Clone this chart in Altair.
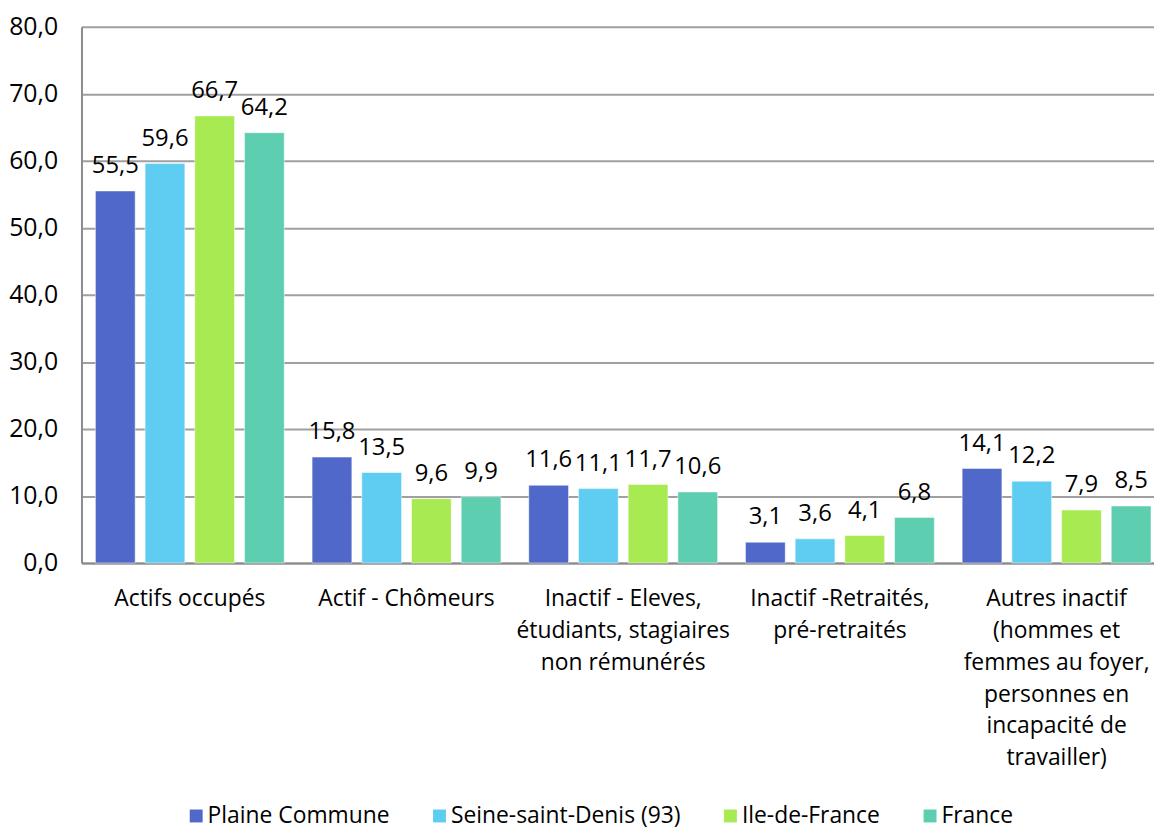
import altair as alt
import pandas as pd

categories = [
    "Actifs occupés",
    "Actif - Chômeurs",
    "Inactif - Eleves,|étudiants, stagiaires|non rémunérés",
    "Inactif -Retraités,|pré-retraités",
    "Autres inactif|(hommes et|femmes au foyer,|personnes en|incapacité de|travailler)",
]
series = ["Plaine Commune", "Seine-saint-Denis (93)", "Ile-de-France", "France"]
plaine_commune = [55.5, 15.8, 11.6, 3.1, 14.1]
seine_saint_denis = [59.6, 13.5, 11.1, 3.6, 12.2]
ile_de_france = [66.7, 9.6, 11.7, 4.1, 7.9]
france = [64.2, 9.9, 10.6, 6.8, 8.5]
colors = ["#4F68C9", "#5FCCF2", "#A8EA52", "#5ECEB1"]
y_ticks = [0, 10, 20, 30, 40, 50, 60, 70, 80]

rows = []
for s, vals in zip(series, [plaine_commune, seine_saint_denis, ile_de_france, france]):
    for c, v in zip(categories, vals):
        rows.append({"cat": c, "serie": s, "val": v, "lab": f"{v:.1f}".replace(".", ",")})
df = pd.DataFrame(rows)

FONT = "Open Sans"

base = alt.Chart(df).encode(
    x=alt.X("cat:N", sort=categories, title=None,
            scale=alt.Scale(paddingInner=0, paddingOuter=0),
            axis=alt.Axis(labelExpr="split(datum.label, '|')", labelAngle=0,
                          labelFontSize=23, labelFont=FONT, labelColor="#000000",
                          labelPadding=25, labelLineHeight=32, ticks=False, grid=False,
                          labelLimit=400,
                          domainColor="#8C8C8C", domainWidth=2, labelBaseline="top")),
    xOffset=alt.XOffset("serie:N", sort=series,
                        scale=alt.Scale(paddingInner=0.2, paddingOuter=0.28)),
)

bars = base.mark_bar(stroke="#FFFFFF", strokeWidth=0.5).encode(
    y=alt.Y("val:Q", title=None,
            scale=alt.Scale(domain=[0, 80], nice=False),
            axis=alt.Axis(values=y_ticks, labelExpr="replace(format(datum.value, '.1f'), '.', ',')",
                          labelFontSize=25, labelFont=FONT, labelColor="#000000",
                          ticks=False, labelPadding=24, domainColor="#8C8C8C", domainWidth=2,
                          grid=True, gridColor="#A0A0A0", gridWidth=2)),
    color=alt.Color("serie:N", sort=series,
                    scale=alt.Scale(domain=series, range=colors),
                    legend=alt.Legend(title=None, orient="none", direction="horizontal",
                                      legendX=104, legendY=783, symbolType="square",
                                      symbolSize=169, symbolStrokeWidth=0,
                                      labelFontSize=23, labelFont=FONT, labelColor="#000000",
                                      labelLimit=400, columnPadding=38, labelOffset=0)),
)

labels = base.mark_text(baseline="alphabetic", dy=-18, fontSize=24, font=FONT, color="#000000").encode(
    y="val:Q",
    text="lab:N",
)

chart = (bars + labels).properties(
    width=1091, height=540,
    autosize=alt.AutoSizeParams(type="none"),
    padding={"left": 74, "top": 16, "right": -11, "bottom": 266},
).configure_view(stroke=None)

chart.save("out.html", embed_options={"renderer": "svg", "actions": False})
